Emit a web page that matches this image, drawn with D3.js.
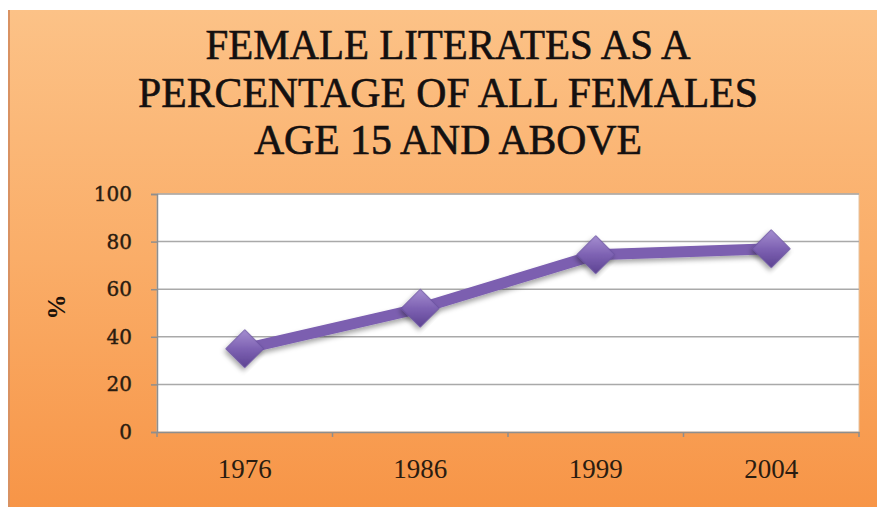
<!DOCTYPE html>
<html>
<head>
<meta charset="utf-8">
<script src="https://cdn.jsdelivr.net/npm/d3@7"></script>
<style>
  html, body { margin: 0; padding: 0; background: #fff; }
  svg { display: block; }
</style>
</head>
<body>
<div id="chart"></div>
<script>
// Female literacy chart

const years = ["1976", "1986", "1999", "2004"];
const literacy = [35, 52, 74.5, 77];
const yTicks = [0, 20, 40, 60, 80, 100];
const titleLines = ["FEMALE LITERATES AS A", "PERCENTAGE OF ALL FEMALES", "AGE 15 AND ABOVE"];
const titleWidths = [485, 620, 388];

const width = 877, height = 509;
const plot = { left: 157, right: 859, top: 194, bottom: 432 };

const svg = d3.select("#chart").append("svg")
    .attr("width", width)
    .attr("height", height);

const defs = svg.append("defs");

const bg = defs.append("linearGradient")
    .attr("id", "bg").attr("x1", 0).attr("y1", 0).attr("x2", 0).attr("y2", 1);
bg.append("stop").attr("offset", "0%").attr("stop-color", "#fcc287");
bg.append("stop").attr("offset", "50%").attr("stop-color", "#faad68");
bg.append("stop").attr("offset", "100%").attr("stop-color", "#f79547");

const mk = defs.append("linearGradient")
    .attr("id", "mk").attr("x1", 0).attr("y1", 0).attr("x2", 1).attr("y2", 1);
mk.append("stop").attr("offset", "0%").attr("stop-color", "#a58ed0");
mk.append("stop").attr("offset", "50%").attr("stop-color", "#7e62b3");
mk.append("stop").attr("offset", "100%").attr("stop-color", "#5d4392");

const shadow = defs.append("filter").attr("id", "shadow")
    .attr("x", "-20%").attr("y", "-20%").attr("width", "140%").attr("height", "160%");
shadow.append("feDropShadow")
    .attr("dx", 1).attr("dy", 3).attr("stdDeviation", 2.5)
    .attr("flood-color", "#000").attr("flood-opacity", 0.35);

// background panel
svg.append("rect")
    .attr("x", 8).attr("y", 10)
    .attr("width", width - 8).attr("height", 497)
    .attr("fill", "url(#bg)");
svg.append("line")
    .attr("x1", 9).attr("x2", 9).attr("y1", 10).attr("y2", 507)
    .attr("stroke", "#d99262").attr("stroke-width", 2);

// title
svg.append("g").selectAll("text")
    .data(titleLines)
    .enter()
    .append("text")
    .attr("x", 448)
    .attr("y", (d, i) => 59 + i * 47.5)
    .attr("text-anchor", "middle")
    .attr("textLength", (d, i) => titleWidths[i])
    .attr("lengthAdjust", "spacingAndGlyphs")
    .style("font-family", "'Liberation Serif', 'Times New Roman', serif")
    .style("font-size", "42px")
    .style("fill", "#141010")
    .style("stroke", "#141010")
    .style("stroke-width", 0.6)
    .text(d => d);

const x = d3.scaleBand().domain(years).range([plot.left, plot.right]);
const y = d3.scaleLinear().domain([0, 100]).range([plot.bottom, plot.top]);

// plot area
svg.append("rect")
    .attr("x", plot.left).attr("y", plot.top)
    .attr("width", plot.right - plot.left).attr("height", plot.bottom - plot.top)
    .attr("fill", "#fff")
    .attr("stroke", "#e4c2a0").attr("stroke-width", 1);

// gridlines
svg.append("g").selectAll("line")
    .data(yTicks.filter(t => t > 0))
    .enter()
    .append("line")
    .attr("x1", plot.left).attr("x2", plot.right)
    .attr("y1", d => y(d)).attr("y2", d => y(d))
    .attr("stroke", "#a9a9a9").attr("stroke-width", 1.5);

// y axis
const yAxis = svg.append("g")
    .attr("transform", `translate(${plot.left},0)`)
    .call(d3.axisLeft(y).tickValues(yTicks).tickSize(6).tickPadding(19));
yAxis.select(".domain").attr("stroke", "#8e8e8e").attr("stroke-width", 1.5);
yAxis.selectAll(".tick line").attr("stroke", "#8e8e8e").attr("stroke-width", 1.5);
yAxis.selectAll(".tick text")
    .style("font-family", "'DejaVu Serif', serif")
    .style("font-size", "20px")
    .style("fill", "#2a1c10")
    .style("stroke", "#2a1c10")
    .style("stroke-width", 0.4);

// x axis
const xAxis = svg.append("g")
    .attr("transform", `translate(0,${plot.bottom})`)
    .call(d3.axisBottom(x).tickSize(0).tickPadding(27));
xAxis.select(".domain").attr("stroke", "#8e8e8e").attr("stroke-width", 1.5);
xAxis.selectAll(".tick text")
    .style("font-family", "'Liberation Serif', 'Times New Roman', serif")
    .style("font-size", "27px")
    .style("fill", "#2a1c10");
xAxis.selectAll(".boundary")
    .data(years.map(d => x(d)).concat([plot.right]))
    .enter()
    .append("line")
    .attr("class", "boundary")
    .attr("x1", d => d).attr("x2", d => d)
    .attr("y1", 0).attr("y2", 5)
    .attr("stroke", "#8e8e8e").attr("stroke-width", 1.5);

// y axis title
svg.append("text")
    .attr("transform", "translate(65,307) rotate(-90)")
    .attr("text-anchor", "middle")
    .style("font-family", "'Liberation Serif', 'Times New Roman', serif")
    .style("font-weight", "bold")
    .style("font-size", "25px")
    .style("fill", "#1c120a")
    .text("%");

// series
const points = years.map((d, i) => ({ year: d, value: literacy[i] }));
const line = d3.line()
    .x(d => x(d.year) + x.bandwidth() / 2)
    .y(d => y(d.value));

svg.append("path")
    .datum(points)
    .attr("d", line)
    .attr("fill", "none")
    .attr("stroke", "#7b5eb0")
    .attr("stroke-width", 11)
    .attr("stroke-linejoin", "round")
    .attr("filter", "url(#shadow)");

svg.append("g").selectAll("path")
    .data(points)
    .enter()
    .append("path")
    .attr("d", d3.symbol(d3.symbolSquare, 720))
    .attr("transform", d => `translate(${x(d.year) + x.bandwidth() / 2},${y(d.value)}) rotate(45)`)
    .attr("fill", "url(#mk)")
    .attr("stroke", "#6a50a0")
    .attr("stroke-width", 0.8)
    .attr("filter", "url(#shadow)");
</script>
</body>
</html>
